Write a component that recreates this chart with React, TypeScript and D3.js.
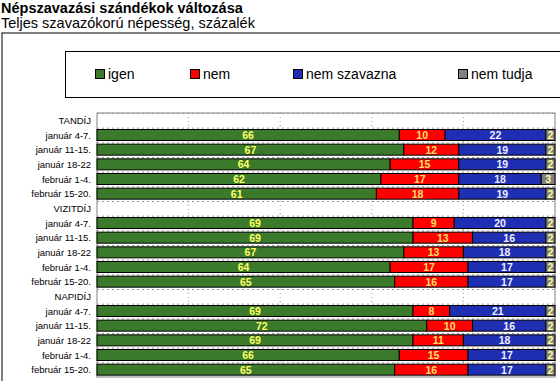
import React from "react";
import * as d3 from "d3";

const title = "Népszavazási szándékok változása";
const subtitle = "Teljes szavazókorú népesség, százalék";
const groups = ["TANDÍJ", "VIZITDÍJ", "NAPIDÍJ"];
const periods = ["január 4-7.", "január 11-15.", "január 18-22", "február 1-4.", "február 15-20."];
const seriesNames = ["igen", "nem", "nem szavazna", "nem tudja"];
const seriesColors = ["#3b7a2a", "#ff0000", "#1f2fb4", "#808080"];
const labelColors = ["#ffff66", "#ffe066", "#eeeeff", "#ffff99"];

const igen = [66, 67, 64, 62, 61, 69, 69, 67, 64, 65, 69, 72, 69, 66, 65];
const nem = [10, 12, 15, 17, 18, 9, 13, 13, 17, 16, 8, 10, 11, 15, 16];
const nemSzavazna = [22, 19, 19, 18, 19, 20, 16, 18, 17, 17, 21, 16, 18, 17, 17];
const nemTudja = [2, 2, 2, 3, 2, 2, 2, 2, 2, 2, 2, 2, 2, 2, 2];
const xTicks = [0, 20, 40, 60, 80, 100];

type Row = { key: string; label: string; header: boolean; values: number[] };

export default function App() {
  const W = 560, H = 381;
  const plotL = 97, plotR = 555, plotT = 113, plotB = 377;

  const rows: Row[] = [];
  groups.forEach((g, gi) => {
    rows.push({ key: `h${gi}`, label: g, header: true, values: [] });
    periods.forEach((p, pi) => {
      const i = gi * periods.length + pi;
      rows.push({
        key: `r${gi}-${pi}`,
        label: p,
        header: false,
        values: [igen[i], nem[i], nemSzavazna[i], nemTudja[i]],
      });
    });
  });

  const x = d3.scaleLinear().domain([0, 100]).range([plotL, plotR]);
  const y = d3.scaleBand<string>().domain(rows.map((r) => r.key)).range([plotT, plotB]).paddingInner(0.25).paddingOuter(0.125);
  const step = y.step();
  const font = "'Liberation Sans', Arial, sans-serif";

  const legendX = [95, 190, 293, 458];

  return (
    <svg width={W} height={H} style={{ position: "absolute", left: 0, top: 0, background: "#fff" }} fontFamily={font}>
      <text x={1} y={13} fontSize={14.5} fontWeight="bold" fill="#000">{title}</text>
      <text x={1} y={28} fontSize={14.5} fill="#000">{subtitle}</text>
      <rect x={2} y={33} width={600} height={400} fill="#fff" stroke="#000" strokeWidth={1} />
      {/* legend */}
      <rect x={65.5} y={51.5} width={600} height={46} fill="#fff" stroke="#000" strokeWidth={1} />
      {seriesNames.map((s, i) => (
        <g key={s}>
          <rect x={legendX[i] + 0.5} y={69.5} width={9} height={9} fill={seriesColors[i]} stroke="#000" strokeWidth={1} />
          <text x={legendX[i] + 13} y={79} fontSize={14} fill="#000">{s}</text>
        </g>
      ))}
      {/* plot area */}
      <rect x={plotL} y={plotT} width={plotR - plotL} height={plotB - plotT} fill="#fff" stroke="#808080" strokeWidth={1} />
      {xTicks.slice(1, -1).map((t) => (
        <line key={t} x1={x(t)} x2={x(t)} y1={plotT} y2={plotB} stroke="#999" strokeDasharray="1,3" />
      ))}
      {rows.map((r, i) => (
        <line key={`hl${i}`} x1={plotL} x2={plotR} y1={plotT + step * i + 0.5} y2={plotT + step * i + 0.5} stroke="#999" strokeDasharray="2,3" />
      ))}
      {rows.map((r) => {
        const yy = y(r.key)!;
        const bh = y.bandwidth();
        let cum = 0;
        return (
          <g key={r.key}>
            <text x={91} y={yy + bh / 2 + 3.5} fontSize={9.5} textAnchor="end" fill="#000">{r.label}</text>
            {!r.header &&
              r.values.map((v, si) => {
                const x0 = x(cum);
                cum += v;
                const x1 = x(cum);
                return (
                  <g key={si}>
                    <rect x={x0} y={yy} width={x1 - x0} height={bh} fill={seriesColors[si]} stroke="#000" strokeWidth={1} />
                    <text x={(x0 + x1) / 2} y={yy + bh / 2 + 4} fontSize={10.5} fontWeight="bold" textAnchor="middle" fill={labelColors[si]}>{v}</text>
                  </g>
                );
              })}
          </g>
        );
      })}
    </svg>
  );
}
